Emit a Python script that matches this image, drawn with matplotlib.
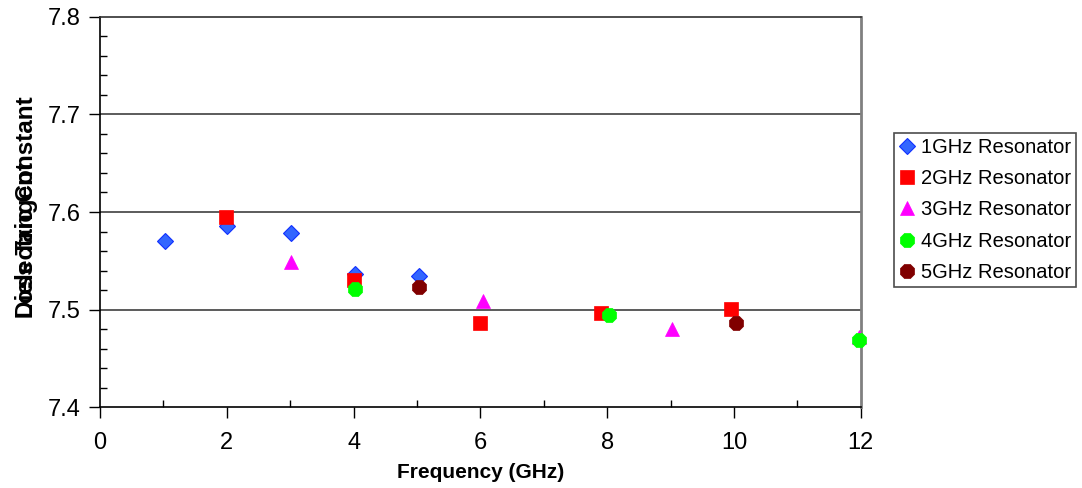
import matplotlib
matplotlib.use("Agg")
import matplotlib.pyplot as plt
from matplotlib.ticker import MultipleLocator, FixedLocator

# ---- data ----
f1 = [1.03, 2.01, 3.02, 4.03, 5.04]
e1 = [7.570, 7.586, 7.579, 7.536, 7.534]
f2 = [1.98, 4.00, 6.00, 7.91, 9.95]
e2 = [7.595, 7.530, 7.486, 7.497, 7.501]
f3 = [3.02, 6.04, 9.03, 11.97]
e3 = [7.549, 7.509, 7.480, 7.472]
f4 = [4.02, 8.03, 11.97]
e4 = [7.521, 7.4945, 7.469]
f5 = [5.03, 10.03]
e5 = [7.523, 7.486]
series_names = ["1GHz Resonator", "2GHz Resonator", "3GHz Resonator",
                "4GHz Resonator", "5GHz Resonator"]
x_ticks = [0, 2, 4, 6, 8, 10, 12]
y_ticks = [7.4, 7.5, 7.6, 7.7, 7.8]

plt.rcParams['font.family'] = ['Liberation Sans', 'DejaVu Sans']

fig = plt.figure(figsize=(10.82, 4.88), dpi=100)
ax = fig.add_axes([100/1082, 1-407.3/488, 760.7/1082, 390.6/488])

styles = [
    dict(marker='D', ms=8.5, mfc='#3366FF', mec='#1030FF', mew=0.8),
    dict(marker='s', ms=9.5, mfc='#FF0000', mec='#FF0000', mew=0.5),
    dict(marker='^', ms=10.5, mfc='#FF00FF', mec='#FF00FF', mew=0.5),
    dict(marker='8', ms=10.5, mfc='#00FF00', mec='#00FF00', mew=0.5),
    dict(marker='8', ms=10.5, mfc='#800000', mec='#800000', mew=0.5),
]
data = [(f1, e1), (f2, e2), (f3, e3), (f4, e4), (f5, e5)]
handles = []
for (fx, ey), st, nm in zip(data, styles, series_names):
    h, = ax.plot(fx, ey, linestyle='none', label=nm, zorder=3, clip_on=False, **st)
    handles.append(h)

ax.set_xlim(0, 12)
ax.set_ylim(7.4, 7.8)
ax.xaxis.set_major_locator(FixedLocator(x_ticks))
ax.yaxis.set_major_locator(FixedLocator(y_ticks))
ax.xaxis.set_minor_locator(MultipleLocator(1))
ax.yaxis.set_minor_locator(MultipleLocator(0.02))
ax.set_yticklabels([f"{v:.1f}" for v in y_ticks])
ax.set_xticklabels([str(v) for v in x_ticks])

ax.tick_params(which='major', direction='out', length=8, width=1, color='black')
ax.tick_params(which='minor', direction='in', length=5, width=1, color='black')
ax.tick_params(axis='x', which='major', labelsize=17, pad=10)
ax.tick_params(axis='y', which='major', labelsize=17, pad=6)

for yv in y_ticks[1:-1]:
    ax.axhline(yv, color='#404040', lw=1.2, zorder=1)

ax.spines['left'].set_color('black')
ax.spines['bottom'].set_color('black')
ax.spines['top'].set_color('#303030')
ax.spines['right'].set_color('#808080')
ax.spines['right'].set_linewidth(2)
for s in ['left', 'bottom', 'top']:
    ax.spines[s].set_linewidth(1.2)

ax.set_xlabel("Frequency (GHz)", fontsize=15, fontweight='bold', labelpad=6)

# overlapping y-axis titles (as in the reference)
for txt in ["Dielectric Constant", "Loss Tangent"]:
    fig.text(27/1082, 1-318/488, txt, rotation=90, ha='center', va='bottom',
             fontsize=17.5, fontweight='bold')

leg = fig.legend(handles=handles, loc='upper left',
                 bbox_to_anchor=(894/1082, 1-132.7/488),
                 fontsize=14.5, frameon=True, fancybox=False, borderpad=0.25,
                 labelspacing=0.61, handlelength=0.8, handletextpad=0.3,
                 borderaxespad=0)
leg.get_frame().set_edgecolor('#202020')
leg.get_frame().set_linewidth(1.2)

fig.savefig("out.png", dpi=100)
